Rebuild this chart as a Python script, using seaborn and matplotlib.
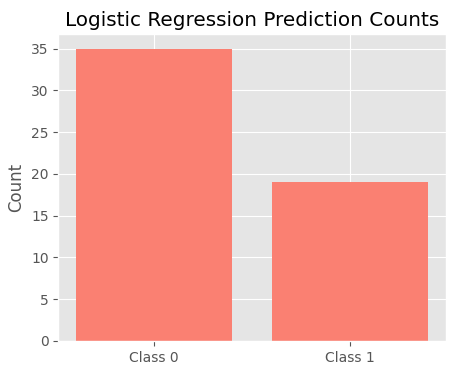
import matplotlib
matplotlib.use("Agg")
import matplotlib.pyplot as plt
import seaborn as sns
import pandas as pd

categories = ["Class 0", "Class 1"]
counts = [35, 19]

plt.style.use("ggplot")
df = pd.DataFrame({"cls": categories, "count": counts})

fig = plt.figure(figsize=(4.55, 3.75), dpi=100)
ax = fig.add_axes([58.5 / 455, 1 - 341 / 375, 387 / 455, 307 / 375])
sns.barplot(data=df, x="cls", y="count", color="salmon", saturation=1, ax=ax, width=0.8)
ax.xaxis.grid(True)
ax.set_axisbelow(True)
ax.set_xlim(-0.49, 1.49)
ax.set_title("Logistic Regression Prediction Counts")
ax.set_ylabel("Count")
ax.set_xlabel("")
fig.savefig("out.png", dpi=100)
